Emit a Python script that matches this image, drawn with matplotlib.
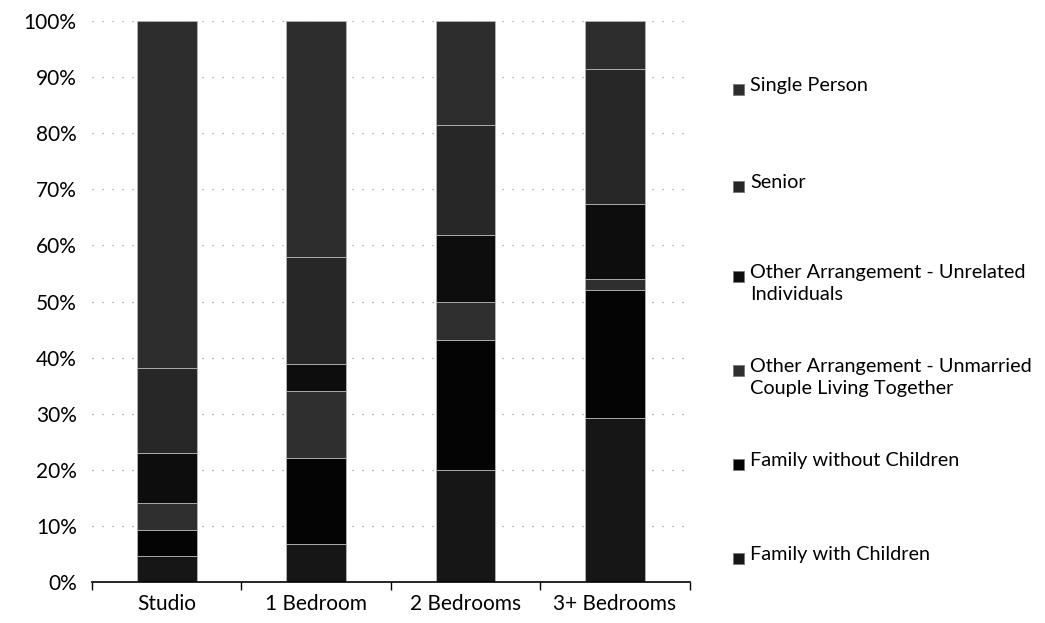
import matplotlib.pyplot as plt
from matplotlib.patches import Rectangle

plt.rcParams['font.family'] = ['Liberation Sans Narrow', 'Lato', 'DejaVu Sans']

categories = ["Studio", "1 Bedroom", "2 Bedrooms", "3+ Bedrooms"]

# stacked bottom to top, values in %
family_with_children = [4.7, 6.8, 20.0, 29.2]
family_without_children = [4.6, 15.3, 23.1, 22.9]
unmarried_couple = [4.8, 12.0, 6.9, 2.0]
unrelated_individuals = [8.9, 4.7, 11.8, 13.3]
senior = [15.1, 19.1, 19.7, 24.1]
single_person = [61.9, 42.1, 18.5, 8.5]

series = [
    ("Family with Children", family_with_children, "#161616"),
    ("Family without Children", family_without_children, "#040404"),
    ("Other Arrangement - Unmarried\nCouple Living Together", unmarried_couple, "#2f2f2f"),
    ("Other Arrangement - Unrelated\nIndividuals", unrelated_individuals, "#0d0d0d"),
    ("Senior", senior, "#272727"),
    ("Single Person", single_person, "#2d2d2d"),
]

fig = plt.figure(figsize=(10.45, 6.23), dpi=100)
ax = fig.add_axes([0.088, 0.066, 0.572, 0.900])

x = range(len(categories))
bottom = [0.0] * len(categories)
for name, vals, col in series:
    ax.bar(x, vals, width=0.4, bottom=bottom, color=col,
           edgecolor="#b5b5b5", linewidth=0.6, zorder=2)
    bottom = [b + v for b, v in zip(bottom, vals)]

ax.set_xlim(-0.5, 3.5)
ax.set_ylim(0, 100)
ax.set_yticks(range(0, 101, 10))
ax.set_yticklabels([f"{v}%" for v in range(0, 101, 10)], fontsize=15)
ax.set_xticks(list(x))
ax.set_xticklabels(categories, fontsize=15)
ax.tick_params(axis="y", length=0, pad=11)
ax.tick_params(axis="x", length=0, pad=9)

# category separator ticks on the x axis
ax.set_xticks([-0.5, 0.5, 1.5, 2.5, 3.5], minor=True)
ax.tick_params(axis="x", which="minor", length=6, width=1, direction="out")

ax.yaxis.grid(True, color="#9a9a9a", linestyle=(0, (1, 7)), linewidth=0.9, zorder=0)
for s in ["top", "right", "left"]:
    ax.spines[s].set_visible(False)
ax.spines["bottom"].set_linewidth(1.2)

# legend drawn on the right, top entry first
legend_y = [89, 186, 276, 370, 464, 558]
for (name, vals, col), py in zip(reversed(series), legend_y):
    fy = 1 - py / 623
    fig.add_artist(Rectangle((733 / 1045, fy - 0.0095), 0.0105, 0.0175,
                             transform=fig.transFigure, facecolor=col,
                             edgecolor="#777777", linewidth=0.6))
    fig.text(750 / 1045, fy + 0.019, name, fontsize=14.3, va="top", ha="left",
             linespacing=1.35)

fig.savefig("out.png", dpi=100)
